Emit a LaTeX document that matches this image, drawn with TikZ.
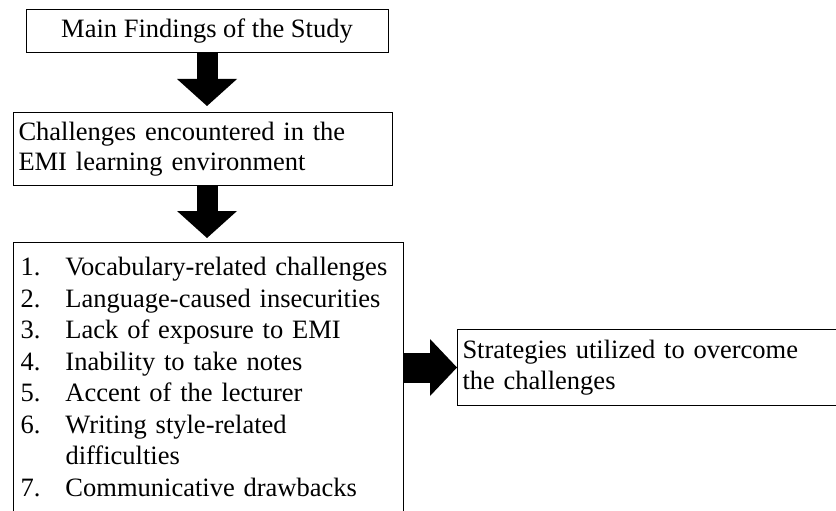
\documentclass[tikz,border=0pt]{standalone}
\usepackage{fontspec}
\setmainfont{Liberation Serif}
\usepackage{tikz}
\usetikzlibrary{arrows.meta, positioning}
\tikzstyle{block} = [rectangle, draw=black, line width=1pt, font=\fontsize{26.5}{30.5}\selectfont]
\tikzstyle{textblock} = [block, anchor=north west, align=left, inner xsep=5pt]
\tikzstyle{bigarrow} = [line width=21pt, -{Triangle[width=60pt, length=27pt, line width=0pt]}]
\tikzstyle{sidearrow} = [line width=30pt, -{Triangle[width=57pt, length=27pt, line width=0pt]}]

\begin{document}
\begin{tikzpicture}[x=1pt, y=-1pt]
	\clip (0, 0) rectangle (836, 511);

	\node (Findings) [block, minimum width=362pt, minimum height=43pt] at (207, 31.5) {Main Findings of the Study};

	\node (Challenges) [textblock, text width=369pt, minimum height=73pt] at (13, 112)
		{Challenges encountered in the\\EMI learning environment};
	\draw [bigarrow, shorten >=6pt] (Findings.south) -- (Findings.south |- Challenges.north);

	\node (List) [textblock, text width=376pt, inner xsep=7pt, inner ysep=15pt, text depth=300pt,
		font=\fontsize{26.5}{31.5}\selectfont] at (13, 242)
		{\makebox[45pt][l]{1.}Vocabulary-related challenges\\
		\makebox[45pt][l]{2.}Language-caused insecurities\\
		\makebox[45pt][l]{3.}Lack of exposure to EMI\\
		\makebox[45pt][l]{4.}Inability to take notes\\
		\makebox[45pt][l]{5.}Accent of the lecturer\\
		\makebox[45pt][l]{6.}Writing style-related\\
		\hspace*{45pt}difficulties\\
		\makebox[45pt][l]{7.}Communicative drawbacks};
	\draw [bigarrow, shorten >=4pt] (Findings.south |- Challenges.south) -- (Findings.south |- List.north);

	\node (Strategies) [textblock, text width=400pt, minimum height=76pt] at (457, 329)
		{Strategies utilized to overcome\\the challenges};
	\draw [sidearrow] (List.east |- Strategies.west) -- (Strategies.west);
\end{tikzpicture}
\end{document}
